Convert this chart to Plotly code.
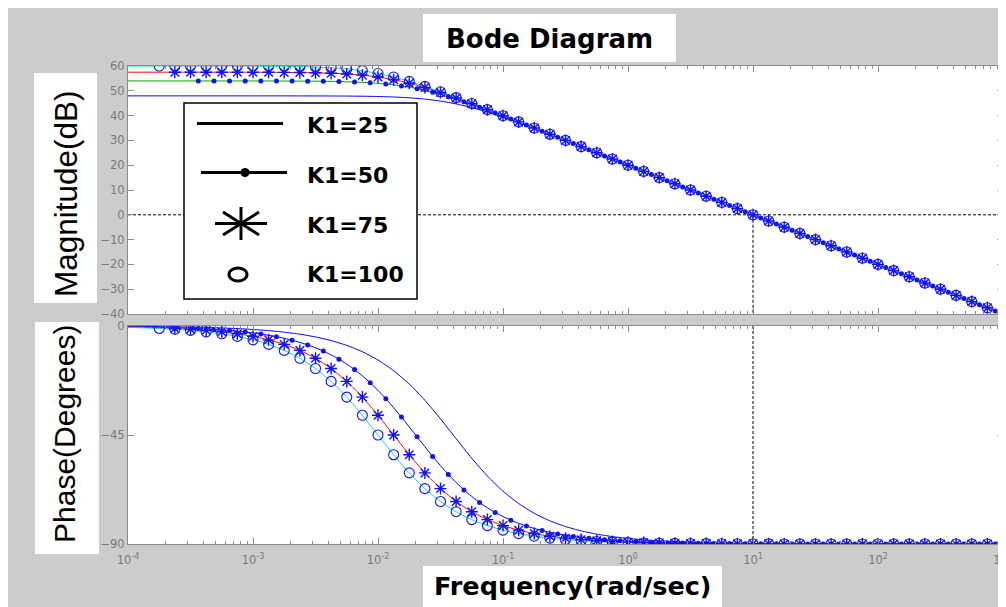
import plotly.graph_objects as go

# ---------------- data ----------------
FREQ_A = [
    1.000e-4, 1.334e-4, 1.778e-4, 2.371e-4, 3.162e-4, 4.217e-4, 5.623e-4, 7.499e-4,
    1.000e-3, 1.334e-3, 1.778e-3, 2.371e-3, 3.162e-3, 4.217e-3, 5.623e-3, 7.499e-3,
    1.000e-2, 1.334e-2, 1.778e-2, 2.371e-2, 3.162e-2, 4.217e-2, 5.623e-2, 7.499e-2,
    1.000e-1, 1.334e-1, 1.778e-1, 2.371e-1, 3.162e-1, 4.217e-1, 5.623e-1, 7.499e-1,
    1.000, 1.334, 1.778, 2.371, 3.162, 4.217, 5.623, 7.499,
    10.00, 13.34, 17.78, 23.71, 31.62, 42.17, 56.23, 74.99,
    100.0, 133.4, 177.8, 237.1, 316.2, 421.7, 562.3, 749.9,
    1000.0,
]
FREQ_B = [
    1.000e-4,
    1.155e-4, 1.540e-4, 2.054e-4, 2.738e-4, 3.652e-4, 4.870e-4, 6.494e-4, 8.660e-4,
    1.155e-3, 1.540e-3, 2.054e-3, 2.738e-3, 3.652e-3, 4.870e-3, 6.494e-3, 8.660e-3,
    1.155e-2, 1.540e-2, 2.054e-2, 2.738e-2, 3.652e-2, 4.870e-2, 6.494e-2, 8.660e-2,
    1.155e-1, 1.540e-1, 2.054e-1, 2.738e-1, 3.652e-1, 4.870e-1, 6.494e-1, 8.660e-1,
    1.155, 1.540, 2.054, 2.738, 3.652, 4.870, 6.494, 8.660,
    11.55, 15.40, 20.54, 27.38, 36.52, 48.70, 64.94, 86.60,
    115.5, 154.0, 205.4, 273.8, 365.2, 487.0, 649.4, 866.0,
    1000.0,
]

MAG_K25 = [
    47.96, 47.96, 47.96, 47.96, 47.96, 47.96, 47.96, 47.96,
    47.96, 47.96, 47.95, 47.94, 47.93, 47.91, 47.88, 47.81,
    47.70, 47.50, 47.18, 46.65, 45.85, 44.71, 43.22, 41.41,
    39.36, 37.13, 34.79, 32.38, 29.93, 27.46, 24.98, 22.49,
    19.99, 17.50, 15.00, 12.50, 10.00, 7.50, 5.00, 2.50,
    0.00, -2.50, -5.00, -7.50, -10.00, -12.50, -15.00, -17.50,
    -20.00, -22.50, -25.00, -27.50, -30.00, -32.50, -35.00, -37.50,
    -40.00,
]
PHASE_K25 = [
    -0.14, -0.19, -0.25, -0.34, -0.45, -0.60, -0.81, -1.07,
    -1.43, -1.91, -2.55, -3.39, -4.52, -6.02, -8.00, -10.62,
    -14.04, -18.44, -23.97, -30.66, -38.33, -46.51, -54.58, -61.93,
    -68.20, -73.30, -77.32, -80.43, -82.79, -84.58, -85.93, -86.95,
    -87.71, -88.28, -88.71, -89.03, -89.28, -89.46, -89.59, -89.69,
    -89.77, -89.83, -89.87, -89.90, -89.93, -89.94, -89.96, -89.97,
    -89.98, -89.98, -89.99, -89.99, -89.99, -89.99, -90.00, -90.00,
    -90.00,
]

MAG_K50 = [
    53.98,
    53.98, 53.98, 53.98, 53.98, 53.98, 53.98, 53.97, 53.97,
    53.97, 53.95, 53.93, 53.90, 53.84, 53.73, 53.54, 53.23,
    52.73, 51.96, 50.85, 49.39, 47.61, 45.57, 43.36, 41.02,
    38.62, 36.18, 33.71, 31.23, 28.74, 26.24, 23.75, 21.25,
    18.75, 16.25, 13.75, 11.25, 8.75, 6.25, 3.75, 1.25,
    -1.25, -3.75, -6.25, -8.75, -11.25, -13.75, -16.25, -18.75,
    -21.25, -23.75, -26.25, -28.75, -31.25, -33.75, -36.25, -38.75,
    -40.00,
]
PHASE_K50 = [
    -0.29,
    -0.33, -0.44, -0.59, -0.79, -1.05, -1.40, -1.86, -2.48,
    -3.30, -4.40, -5.86, -7.80, -10.35, -13.68, -17.99, -23.41,
    -30.00, -37.60, -45.76, -53.86, -61.30, -67.67, -72.88, -77.00,
    -80.17, -82.60, -84.44, -85.82, -86.87, -87.65, -88.24, -88.68,
    -89.01, -89.26, -89.44, -89.58, -89.69, -89.76, -89.82, -89.87,
    -89.90, -89.93, -89.95, -89.96, -89.97, -89.98, -89.98, -89.99,
    -89.99, -89.99, -89.99, -90.00, -90.00, -90.00, -90.00, -90.00,
    -90.00,
]

MAG_K75 = [
    57.50, 57.50, 57.50, 57.50, 57.50, 57.50, 57.49, 57.49,
    57.48, 57.46, 57.42, 57.37, 57.26, 57.09, 56.79, 56.31,
    55.56, 54.49, 53.06, 51.31, 49.29, 47.09, 44.76, 42.37,
    39.92, 37.46, 34.98, 32.49, 29.99, 27.50, 25.00, 22.50,
    20.00, 17.50, 15.00, 12.50, 10.00, 7.50, 5.00, 2.50,
    0.00, -2.50, -5.00, -7.50, -10.00, -12.50, -15.00, -17.50,
    -20.00, -22.50, -25.00, -27.50, -30.00, -32.50, -35.00, -37.50,
    -40.00,
]
PHASE_K75 = [
    -0.43, -0.57, -0.76, -1.02, -1.36, -1.81, -2.41, -3.22,
    -4.29, -5.71, -7.60, -10.08, -13.34, -17.55, -22.87, -29.35,
    -36.86, -45.00, -53.14, -60.65, -67.13, -72.45, -76.66, -79.92,
    -82.40, -84.29, -85.71, -86.78, -87.59, -88.19, -88.64, -88.98,
    -89.24, -89.43, -89.57, -89.68, -89.76, -89.82, -89.86, -89.90,
    -89.92, -89.94, -89.96, -89.97, -89.98, -89.98, -89.99, -89.99,
    -89.99, -89.99, -90.00, -90.00, -90.00, -90.00, -90.00, -90.00,
    -90.00,
]

MAG_K100 = [
    60.00, 60.00, 60.00, 60.00, 60.00, 59.99, 59.99, 59.98,
    59.96, 59.92, 59.87, 59.76, 59.59, 59.29, 58.81, 58.06,
    56.99, 55.56, 53.81, 51.79, 49.59, 47.26, 44.87, 42.42,
    39.96, 37.48, 34.99, 32.49, 30.00, 27.50, 25.00, 22.50,
    20.00, 17.50, 15.00, 12.50, 10.00, 7.50, 5.00, 2.50,
    0.00, -2.50, -5.00, -7.50, -10.00, -12.50, -15.00, -17.50,
    -20.00, -22.50, -25.00, -27.50, -30.00, -32.50, -35.00, -37.50,
    -40.00,
]
PHASE_K100 = [
    -0.57, -0.76, -1.02, -1.36, -1.81, -2.41, -3.22, -4.29,
    -5.71, -7.60, -10.08, -13.34, -17.55, -22.87, -29.35, -36.86,
    -45.00, -53.14, -60.65, -67.13, -72.45, -76.66, -79.92, -82.40,
    -84.29, -85.71, -86.78, -87.59, -88.19, -88.64, -88.98, -89.24,
    -89.43, -89.57, -89.68, -89.76, -89.82, -89.86, -89.90, -89.92,
    -89.94, -89.96, -89.97, -89.98, -89.98, -89.99, -89.99, -89.99,
    -89.99, -90.00, -90.00, -90.00, -90.00, -90.00, -90.00, -90.00,
    -90.00,
]

SERIES_LABELS = ["K1=25", "K1=50", "K1=75", "K1=100"]
MAG_TICKS = [60, 50, 40, 30, 20, 10, 0, -10, -20, -30, -40]
PHASE_TICKS = [0, -45, -90]
FREQ_TICKS = [1e-4, 1e-3, 1e-2, 1e-1, 1e0, 1e1, 1e2, 1e3]
FREQ_TICK_LABELS = ["10<sup>-4</sup>", "10<sup>-3</sup>", "10<sup>-2</sup>", "10<sup>-1</sup>",
                    "10<sup>0</sup>", "10<sup>1</sup>", "10<sup>2</sup>", "10<sup>3</sup>"]
CROSSOVER_FREQ = 10.0

for arr in (MAG_K25, PHASE_K25, MAG_K75, PHASE_K75, MAG_K100, PHASE_K100):
    assert len(arr) == len(FREQ_A), len(arr)
for arr in (MAG_K50, PHASE_K50):
    assert len(arr) == len(FREQ_B), len(arr)

# ---------------- styling ----------------
# the page body adds an 8px white margin, so the figure is drawn 8px smaller
OFF = 8
W, H = 1006 - OFF, 607 - OFF
def px(x):
    return (x - OFF) / W
def py(y):
    return 1 - (y - OFF) / H

BLUE = "#0000ff"
GREEN = "#00a000"
RED = "#ff0000"
CYAN = "#00d8d8"
MARK = "#1010ff"
AXC = "#8a8a8a"
BG = "#cccccc"

fig = go.Figure()

def dotted(x, y, xa, ya):
    fig.add_trace(go.Scatter(x=x, y=y, xaxis=xa, yaxis=ya, mode="lines",
                             line=dict(color="black", width=1, dash="3px,2px"),
                             hoverinfo="skip", showlegend=False))

# reference lines
dotted([FREQ_A[0], FREQ_A[-1]], [0, 0], "x", "y")
dotted([CROSSOVER_FREQ, CROSSOVER_FREQ], [0, MAG_TICKS[-1]], "x", "y")
dotted([CROSSOVER_FREQ, CROSSOVER_FREQ], [PHASE_TICKS[0], PHASE_TICKS[-1]], "x2", "y2")

def line(x, y, color, xa, ya, name):
    fig.add_trace(go.Scatter(x=x, y=y, xaxis=xa, yaxis=ya, mode="lines", name=name,
                             line=dict(color=color, width=1, shape="spline", smoothing=0.6),
                             showlegend=False))

def marks(x, y, symbol, size, xa, ya, name, filled=False, lw=1.0):
    m = dict(symbol=symbol, size=size, color=MARK)
    if not filled:
        m["line"] = dict(color=MARK, width=lw)
    fig.add_trace(go.Scatter(x=x, y=y, xaxis=xa, yaxis=ya, mode="markers", name=name,
                             marker=m, showlegend=False))

# magnitude
line(FREQ_A, MAG_K25, BLUE, "x", "y", SERIES_LABELS[0])
line(FREQ_B, MAG_K50, GREEN, "x", "y", SERIES_LABELS[1])
line(FREQ_A, MAG_K75, RED, "x", "y", SERIES_LABELS[2])
line(FREQ_A, MAG_K100, CYAN, "x", "y", SERIES_LABELS[3])
marks(FREQ_B[5:57], MAG_K50[5:57], "circle", 5, "x", "y", SERIES_LABELS[1], filled=True)
marks(FREQ_A[3:56], MAG_K75[3:56], "asterisk-open", 10, "x", "y", SERIES_LABELS[2], lw=1.4)
marks(FREQ_A[2:56], MAG_K100[2:56], "circle-open", 10, "x", "y", SERIES_LABELS[3], lw=1.1)

# phase
line(FREQ_A, PHASE_K25, BLUE, "x2", "y2", SERIES_LABELS[0])
line(FREQ_B, PHASE_K50, BLUE, "x2", "y2", SERIES_LABELS[1])
line(FREQ_A, PHASE_K75, RED, "x2", "y2", SERIES_LABELS[2])
line(FREQ_A, PHASE_K100, CYAN, "x2", "y2", SERIES_LABELS[3])
marks(FREQ_B[5:57], PHASE_K50[5:57], "circle", 5, "x2", "y2", SERIES_LABELS[1], filled=True)
marks(FREQ_A[3:56], PHASE_K75[3:56], "asterisk-open", 10, "x2", "y2", SERIES_LABELS[2], lw=1.4)
marks(FREQ_A[2:56], PHASE_K100[2:56], "circle-open", 10, "x2", "y2", SERIES_LABELS[3], lw=1.1)

MINOR = [m * 10.0 ** d for d in range(-4, 3) for m in range(2, 10)]
tickfont = dict(family="DejaVu Sans", size=11.5, color="#7a7a7a")
common = dict(showline=True, linecolor=AXC, linewidth=1, mirror="ticks", ticks="inside",
              ticklen=6, tickcolor=AXC, showgrid=False, zeroline=False, automargin=False,
              tickfont=tickfont, fixedrange=True, ticklabeloverflow="allow")
xcommon = dict(type="log", range=[-4, 3], tickmode="array", tickvals=FREQ_TICKS,
               minor=dict(ticks="inside", ticklen=3, tickcolor=AXC, tickmode="array",
                          tickvals=MINOR, showgrid=False),
               domain=[px(128), px(1003)])

fig.update_layout(
    width=W, height=H, template="none",
    margin=dict(l=0, r=0, t=0, b=0, pad=0),
    paper_bgcolor=BG, plot_bgcolor="white",
    font=dict(family="Liberation Sans", color="black"),
    showlegend=False,
    xaxis=dict(**common, **xcommon, anchor="y", showticklabels=False),
    yaxis=dict(**common, range=[-40, 60], tickmode="array", tickvals=MAG_TICKS,
               domain=[py(314), py(66)], anchor="x"),
    xaxis2=dict(**common, **xcommon, anchor="y2", ticktext=FREQ_TICK_LABELS,
                ticklabelstandoff=5),
    yaxis2=dict(**common, range=[-90, 0], tickmode="array", tickvals=PHASE_TICKS,
                domain=[py(544), py(326)], anchor="x2"),
)

shapes = []
def rect(x0, y0, x1, y1, fill="white", lw=0, lc="black", layer="above"):
    shapes.append(dict(type="rect", xref="paper", yref="paper",
                       x0=px(x0), x1=px(x1), y0=py(y1), y1=py(y0),
                       fillcolor=fill, line=dict(width=lw, color=lc), layer=layer))

def seg(x0, y0, x1, y1, lw=3):
    shapes.append(dict(type="line", xref="paper", yref="paper",
                       x0=px(x0), x1=px(x1), y0=py(y0), y1=py(y1),
                       line=dict(width=lw, color="black"), layer="above"))

# label boxes
rect(423, 14, 676, 62)
rect(34, 73, 97, 303)
rect(35, 322, 99, 554)
rect(423, 566, 722, 610)
# legend box
rect(184, 103, 417, 299, lw=1.5)
seg(197, 123.5, 283, 123.5)
seg(201, 172.5, 287, 172.5)
shapes.append(dict(type="circle", xref="paper", yref="paper",
                   x0=px(240.5), x1=px(249.5), y0=py(177), y1=py(168),
                   fillcolor="black", line=dict(width=0), layer="above"))
cx, cy = 241, 223.5
seg(215, cy, 267, cy)
seg(cx, 207, cx, 240)
seg(223, 212, 259, 235)
seg(223, 235, 259, 212)
shapes.append(dict(type="circle", xref="paper", yref="paper",
                   x0=px(229), x1=px(247), y0=py(281), y1=py(268),
                   line=dict(width=3, color="black"), layer="above"))
fig.update_layout(shapes=shapes)

ann = []
def text(x, y, s, size, family, xanchor="center", angle=0):
    ann.append(dict(xref="paper", yref="paper", x=px(x), y=py(y), text=s, showarrow=False,
                    xanchor=xanchor, yanchor="middle", textangle=angle,
                    font=dict(family=family, size=size, color="black")))

text(549.5, 38.5, "<b>Bode Diagram</b>", 26, "DejaVu Sans")
text(572.5, 586, "<b>Frequency(rad/sec)</b>", 25.5, "DejaVu Sans")
text(66, 194, "Magnitude(dB)", 31.5, "Liberation Sans", angle=-90)
text(64, 434, "Phase(Degrees)", 30, "Liberation Sans", angle=-90)
for lab, yy in zip(SERIES_LABELS, [125, 175, 225, 274.5]):
    text(305, yy, "<b>%s</b>" % lab, 22, "DejaVu Sans", xanchor="left")
fig.update_layout(annotations=ann)

fig.write_html("out.html")
